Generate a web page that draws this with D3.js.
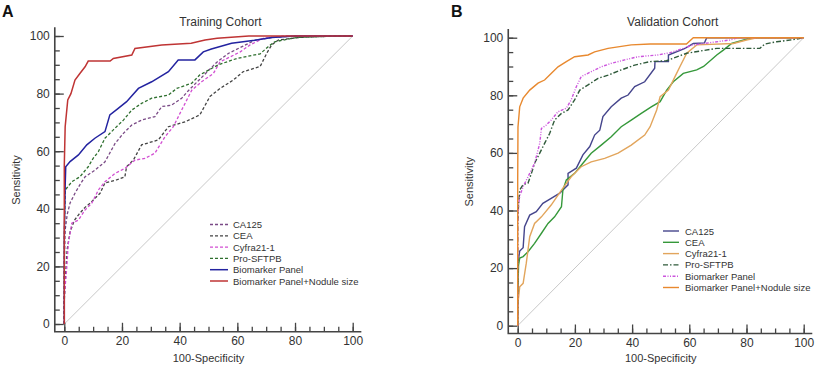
<!DOCTYPE html>
<html>
<head>
<meta charset="utf-8">
<script src="https://cdn.jsdelivr.net/npm/d3@7"></script>
<style>
body { margin: 0; background: #fff; }
text { font-family: "Liberation Sans", Arial, sans-serif; fill: #333; }
</style>
</head>
<body>
<script>
// series names, shared by both panels
var names = ['CA125', 'CEA', 'Cyfra21-1', 'Pro-SFTPB', 'Biomarker Panel', 'Biomarker Panel+Nodule size'];

var xTicks = [0, 20, 40, 60, 80, 100],
	yTicks = [0, 20, 40, 60, 80, 100];

// training cohort, [100-specificity, sensitivity]
var trainCA125 = [[0,0],[0,20],[0.3,32.6],[1,38],[2,42],[3.7,45.4],[5.5,48.5],[7.2,51.1],[10.6,53.4],[14.1,56.3],[17.6,62.7],[20.5,66.2],[23.4,69.1],[26.8,70.8],[31.4,72],[33.8,75.5],[37.2,76],[40.7,78.4],[43,81],[47,85],[50,88],[53,91],[57,94],[62,96.5],[66,98.5],[72,99.5],[80,100],[100,100]];
var trainCEA = [[0,0],[0,8],[0.5,18],[1,26],[2,32],[3.5,36],[5,38],[7.2,40.5],[9,42],[12.4,45.4],[14.1,49],[18,50],[21,51.1],[21.6,54.6],[24,57],[26.8,62.2],[32.6,63.9],[36.1,68.5],[41.9,70.2],[47,72.6],[50.5,79],[54,81.8],[58.6,84.7],[62,87.6],[67.9,89.4],[70.2,94],[71.9,96.9],[74.2,98.6],[81.5,99.5],[95,100],[100,100]];
var trainCyfra = [[0,0],[0,9.5],[0.8,18.8],[1.4,28],[2.6,35],[4.9,36.1],[7.2,39.6],[9.5,41.9],[11.8,46.5],[14.1,49.4],[17.6,52.3],[21,54],[24.5,56.9],[28,57.5],[31.4,59.3],[34.9,65],[37.8,68.5],[40.7,74.3],[44.2,81.2],[47.6,84.1],[51.7,87],[54,91],[61,94.5],[64.4,96.9],[69,99.2],[76,100],[100,100]];
var trainSFTPB = [[0,0],[0,30],[0.3,46.5],[2.6,49.4],[5.4,51.1],[8.3,54.6],[10,57.5],[11.8,59.8],[14.1,64.5],[17,67.4],[20.5,70.8],[23.4,74.3],[26.8,76.6],[30.3,78.4],[36.1,79.5],[39,81.8],[44.2,83.6],[47,86.5],[53.4,90],[59.8,92.2],[67.9,93.8],[70.7,96.3],[73,98],[80.6,99.5],[94.5,100],[100,100]];
var trainPanel = [[0,0],[0,30],[0.3,48],[0.5,54.6],[2,56.4],[4.9,58.7],[7.8,62.2],[10.6,64.5],[14.1,66.8],[15.8,72.6],[18.7,74.9],[21.6,77.2],[25.7,81.8],[30.3,84.1],[36.1,87.6],[39.5,91.7],[45.3,91.7],[48.2,94.5],[51,95.5],[58,97.5],[66,98.5],[72,99.5],[80,100],[100,100]];
var trainNodule = [[0,0],[0,55],[0.3,68.5],[1.2,77.8],[2.3,80],[3.7,84.7],[5.4,87],[7.2,89.3],[8.3,91.3],[15.9,91.3],[17,92.2],[23.4,93.4],[24.5,95.7],[33.8,96.9],[44,97.5],[48.8,98.6],[53,99.2],[64,100],[100,100]];

// validation cohort
var valCA125 = [[0,0],[0,12],[0.1,21.7],[0.7,25.9],[1.9,27.1],[2.4,34.4],[4.2,38.4],[6.5,39.6],[8.8,42.5],[11.7,44.2],[14.7,46],[17.6,48.9],[17.6,52.9],[20.5,54.7],[22.8,59.3],[25.2,62.2],[26.9,66.2],[28.7,67.9],[29.8,72.6],[32.7,76],[36.2,79],[38.6,80.1],[40.9,83],[44.4,84.7],[47.9,89.4],[48,91.7],[52.7,91.7],[52.7,94],[58.5,96.3],[61.4,98],[65.3,98.2],[66.1,100],[100,100]];
var valCEA = [[0,0],[0,10],[0.3,21],[0.7,23.5],[1.9,24],[3.6,25.7],[5.9,28.6],[8.3,32.1],[10.6,35.5],[12.9,37.8],[15.3,41.3],[15.8,47.1],[17,50.6],[19.9,52.9],[22.8,56.4],[25.7,59.9],[29.2,62.7],[32.7,65.6],[36.2,69.1],[39.7,71.4],[43.2,73.7],[46.7,76],[49.8,77.8],[52.1,81.8],[54.4,84.7],[57.9,87.6],[62.6,88.8],[65,90],[69.6,94],[71.9,95.7],[74.8,98],[81.2,99.8],[83.6,100],[100,100]];
var valCyfra = [[0,0],[0.1,7.8],[0.7,13.5],[1.9,14.7],[3,21.7],[4.2,30.9],[5.9,35.5],[8.3,37.8],[11.7,41.9],[15.3,47.1],[18.7,51.7],[22.2,55.2],[25.7,56.9],[30.4,58.1],[35.1,59.9],[39.7,62.7],[44.4,66.2],[46.3,69.1],[48.6,74.9],[49.8,79.5],[52.7,81.8],[55,86.5],[56.7,89.9],[59.1,94.6],[62.6,97.5],[75.4,98],[80,99.2],[83.6,100],[100,100]];
var valSFTPB = [[0,0],[0,35],[0.3,42],[0.7,47.1],[1.9,49],[3.6,49.5],[4.8,52.9],[5.9,56.4],[7.7,59.9],[9.4,63.3],[11.2,66.8],[12.9,71.4],[15.3,73.7],[17.6,74.9],[19.9,78.4],[21.7,81.8],[24.6,83.6],[28.1,85.9],[31.6,87],[36.2,88.8],[40.9,90.5],[46.3,91.7],[52,92],[59.1,94.6],[69.6,96.3],[84.7,96.3],[86.4,97.8],[90.6,98.6],[97.6,99.5],[100,100]];
var valPanel = [[0,0],[0,35],[0.3,42],[0.7,45],[1.9,48.3],[3.6,51.7],[5.9,56.4],[7.7,63.3],[8.3,68.5],[9.9,69.6],[11.7,71.4],[14.1,74.3],[17,75.5],[18.7,78.4],[20.5,83],[22.2,86.5],[25.7,88.2],[29.2,89.9],[32.7,91.1],[37.4,92.3],[42.1,93.4],[48.9,94],[53.3,94.8],[57.9,96.3],[61.4,97.5],[74.2,99.2],[77,100],[100,100]];
var valNodule = [[0,0],[0,50],[0.1,69],[0.7,76],[1.9,79],[4.2,81.8],[7.1,84.2],[9.4,85.3],[11.7,87.6],[14.1,89.9],[17,91.7],[19.9,93.4],[24.6,94],[26.9,95.1],[31.6,96.3],[39.7,97.5],[46.3,97.8],[59,97.8],[61.4,100],[100,100]];

var svg = d3.select('body')
	.append('svg')
	.attr('width', 817)
	.attr('height', 371);

function drawPanel(p) {
	var x = d3.scaleLinear().domain([0, 100]).range(p.xr),
		y = d3.scaleLinear().domain([0, 100]).range(p.yr);

	var g = svg.append('g');

	// panel letter and title
	g.append('text')
		.attr('x', p.letter[0]).attr('y', p.letter[1])
		.style('font-size', '16px').style('font-weight', 'bold').style('fill', '#111')
		.text(p.label);
	g.append('text')
		.attr('x', (p.xr[0] + p.xr[1]) / 2 + 12).attr('y', 26)
		.attr('text-anchor', 'middle')
		.style('font-size', '12px')
		.text(p.title);

	// reference diagonal
	g.append('line')
		.attr('x1', x(0)).attr('y1', y(0))
		.attr('x2', x(100)).attr('y2', y(100))
		.attr('stroke', '#c8c8c8').attr('stroke-width', 1);

	// axes with inward ticks, offset from the data area
	var ax0 = x(-3.3), ay0 = y(-2.7);

	var xMinor = d3.axisBottom(x).tickValues(d3.range(0, 101, 5)).tickSize(-5).tickFormat('');
	var xMajor = d3.axisBottom(x).tickValues(xTicks).tickSize(-9).tickPadding(5);
	var yMinor = d3.axisLeft(y).tickValues(d3.range(0, 101, 5)).tickSize(-5).tickFormat('');
	var yMajor = d3.axisLeft(y).tickValues(yTicks).tickSize(-9).tickPadding(5);

	[xMinor, xMajor].forEach(function(a) {
		g.append('g').attr('transform', 'translate(0,' + ay0 + ')').call(a);
	});
	[yMinor, yMajor].forEach(function(a) {
		g.append('g').attr('transform', 'translate(' + ax0 + ',0)').call(a);
	});
	g.selectAll('.domain').remove();
	g.selectAll('.tick line').attr('stroke', '#444').attr('stroke-width', 1.3);
	g.selectAll('.tick text').style('font-size', '12px').style('fill', '#333')
		.style('font-family', '"Liberation Sans", Arial, sans-serif');

	g.append('path')
		.attr('d', 'M' + ax0 + ',' + y(103) + 'V' + ay0 + 'H' + x(103))
		.attr('fill', 'none').attr('stroke', '#444').attr('stroke-width', 1.6);

	// axis titles
	g.append('text')
		.attr('x', (p.xr[0] + p.xr[1]) / 2).attr('y', 362)
		.attr('text-anchor', 'middle')
		.style('font-size', '11px')
		.text('100-Specificity');
	g.append('text')
		.attr('transform', 'translate(' + (ax0 - 35) + ',' + y(50) + ') rotate(-90)')
		.attr('text-anchor', 'middle')
		.style('font-size', '11px')
		.text('Sensitivity');

	// roc curves
	var line = d3.line()
		.x(function(d) { return x(d[0]); })
		.y(function(d) { return y(d[1]); });

	g.selectAll('.roc')
		.data(p.series)
		.enter().append('path')
		.attr('class', 'roc')
		.attr('d', function(d) { return line(d.values); })
		.attr('fill', 'none')
		.attr('stroke', function(d) { return d.color; })
		.attr('stroke-width', function(d) { return d.width; })
		.attr('stroke-dasharray', function(d) { return d.dash; });

	// legend
	var leg = g.append('g')
		.attr('transform', 'translate(' + p.legend[0] + ',' + p.legend[1] + ')');
	var row = leg.selectAll('g')
		.data(p.series)
		.enter().append('g')
		.attr('transform', function(d, i) { return 'translate(0,' + (i * 11.3) + ')'; });
	row.append('line')
		.attr('x1', 0).attr('x2', p.legend[2])
		.attr('stroke', function(d) { return d.color; })
		.attr('stroke-width', function(d) { return d.width; })
		.attr('stroke-dasharray', function(d) { return d.dash; });
	row.append('text')
		.attr('x', p.legend[3]).attr('y', 3.5)
		.style('font-size', '9.5px')
		.text(function(d) { return d.name; });
}

var trainValues = [trainCA125, trainCEA, trainCyfra, trainSFTPB, trainPanel, trainNodule],
	trainColors = ['#7a4a86', '#444444', '#d24fd2', '#2e6f2e', '#2323a0', '#bf3434'],
	trainDash = ['3,2', '3,2', '3,2', '3,2', null, null];

var valValues = [valCA125, valCEA, valCyfra, valSFTPB, valPanel, valNodule],
	valColors = ['#45458c', '#35983a', '#e2a55c', '#2f5a3a', '#cc55dd', '#e8892f'],
	valDash = [null, null, null, '5,2,1.5,2', '3,1.5,1,1.5,1,1.5', null];

drawPanel({
	label: 'A', letter: [2, 17], title: 'Training Cohort',
	xr: [64.3, 352.7], yr: [324, 36],
	legend: [210, 224.5, 18, 23],
	series: names.map(function(n, i) {
		return {name: n, values: trainValues[i], color: trainColors[i], dash: trainDash[i], width: i > 3 ? 1.5 : 1.3};
	})
});

drawPanel({
	label: 'B', letter: [451, 17], title: 'Validation Cohort',
	xr: [517.7, 803.7], yr: [325.7, 37.7],
	legend: [663, 231, 16, 22],
	series: names.map(function(n, i) {
		return {name: n, values: valValues[i], color: valColors[i], dash: valDash[i], width: 1.4};
	})
});
</script>
</body>
</html>
